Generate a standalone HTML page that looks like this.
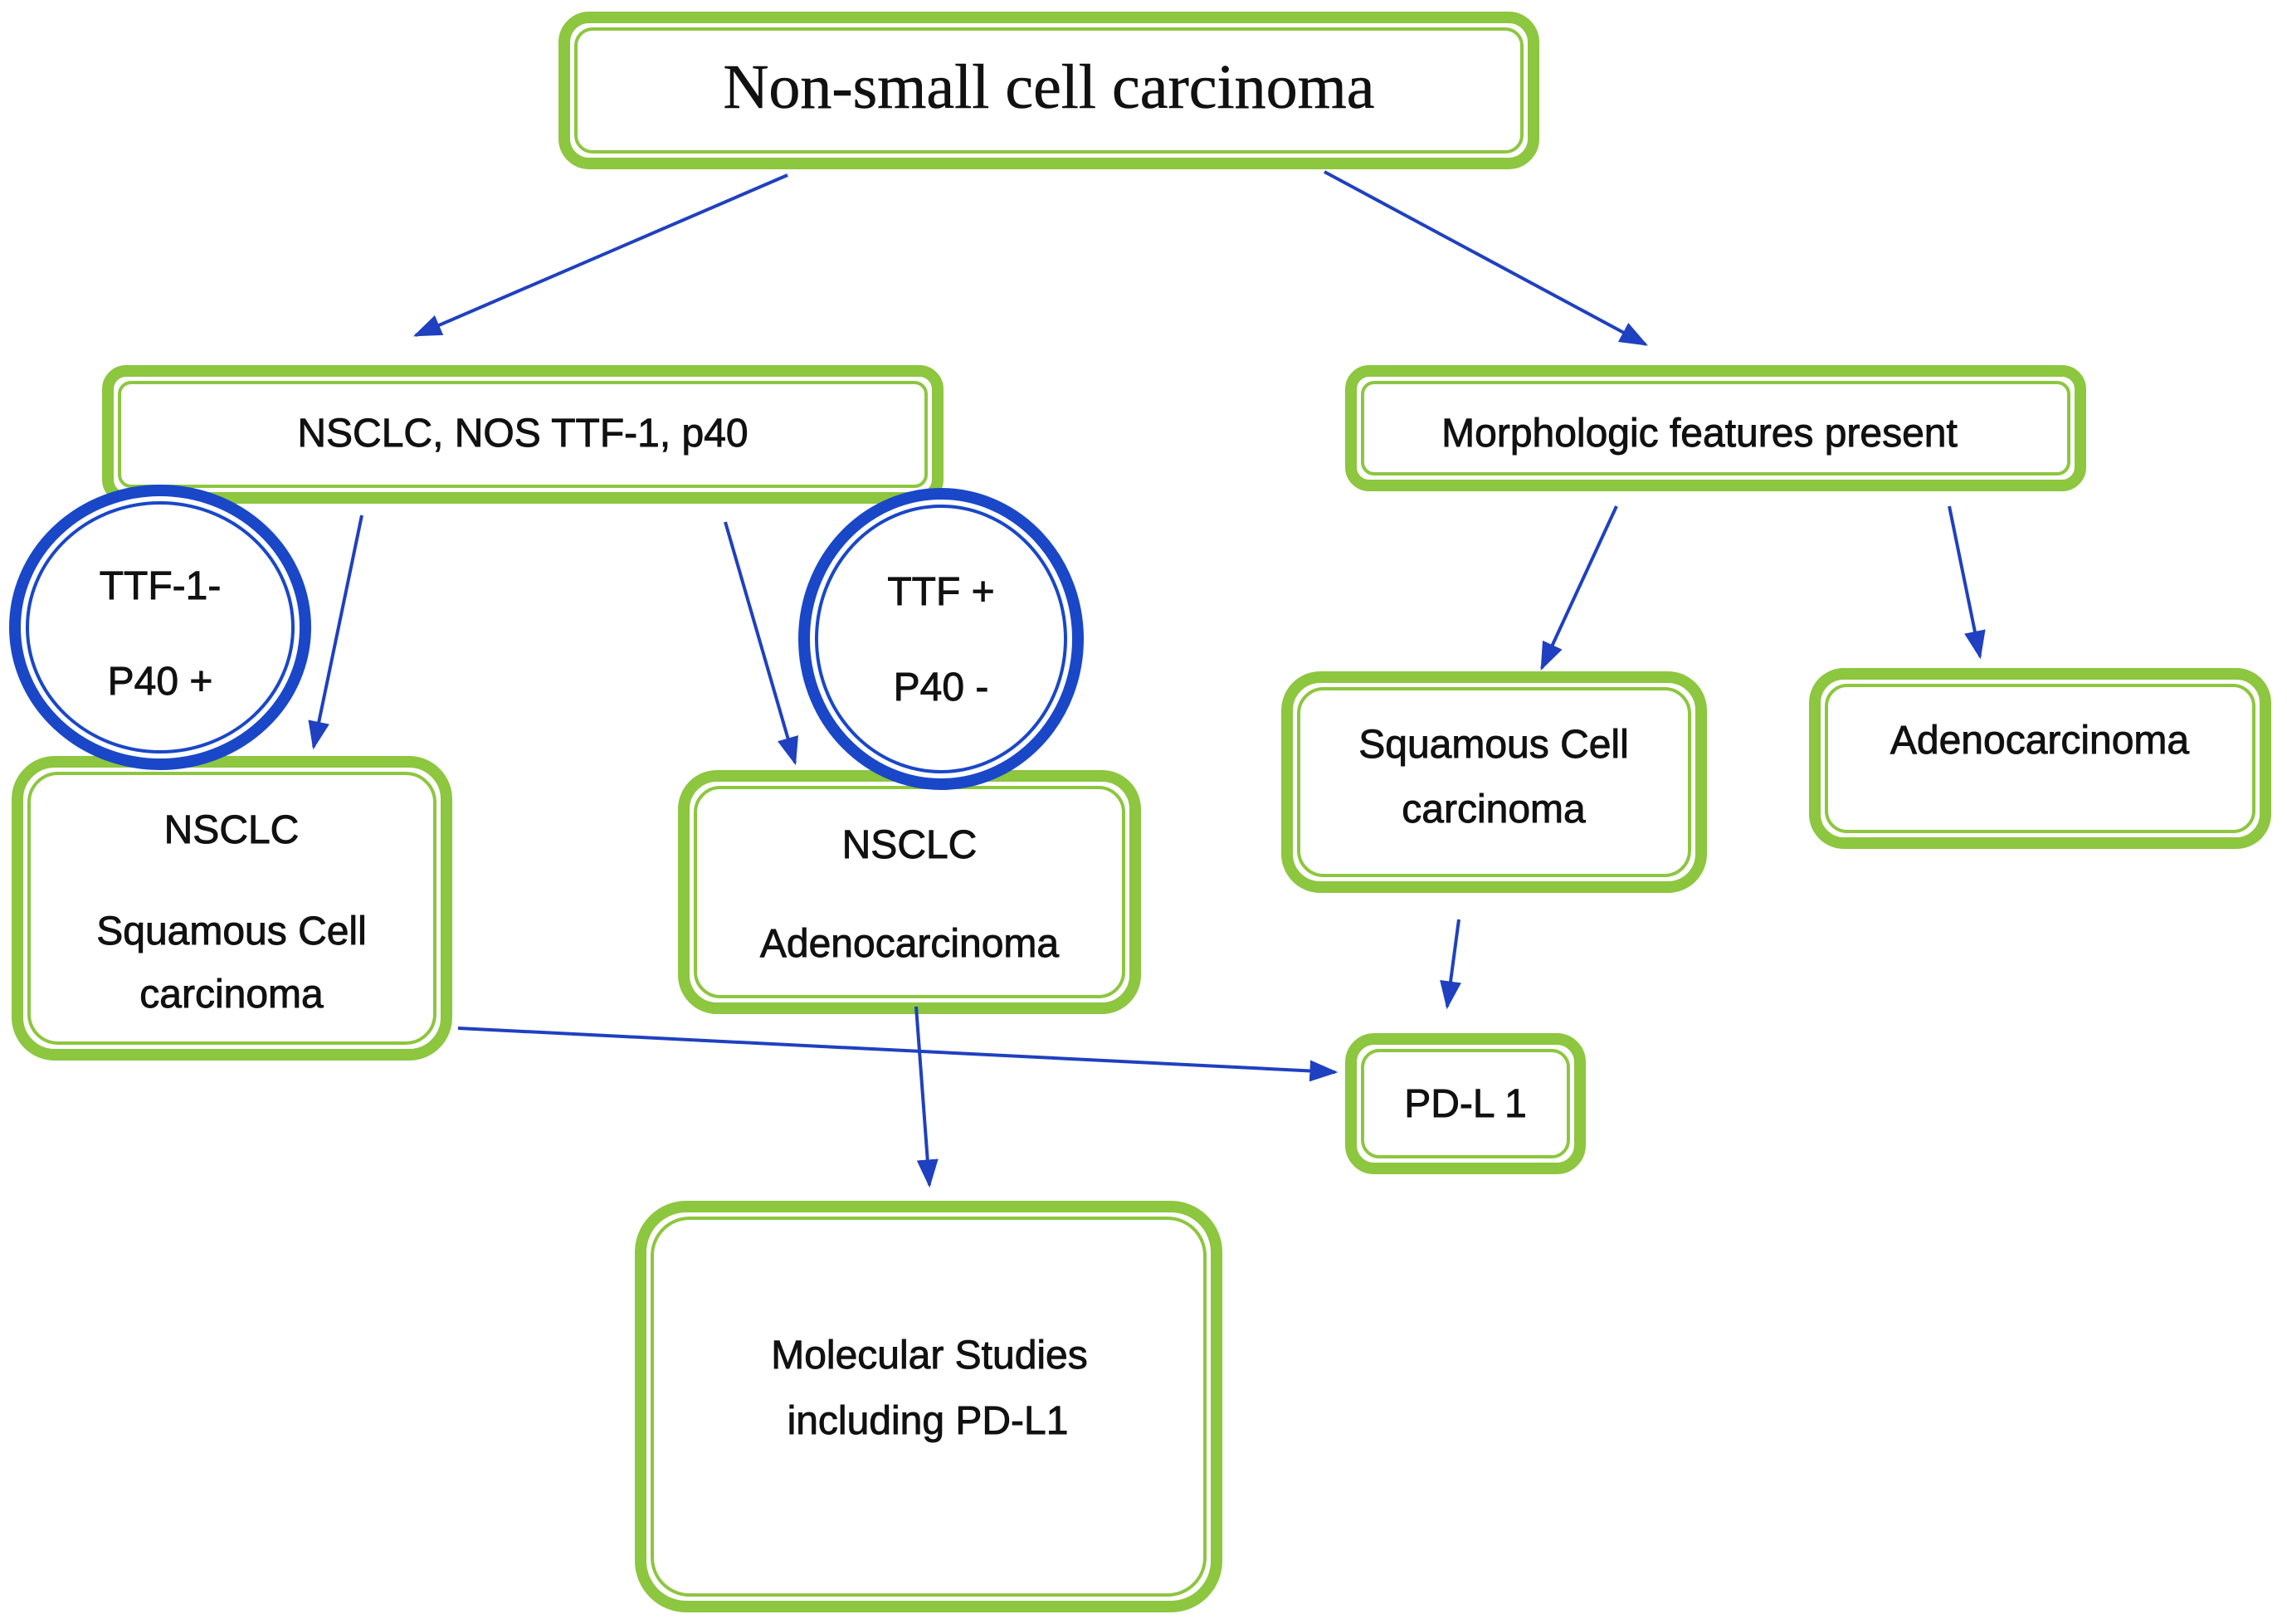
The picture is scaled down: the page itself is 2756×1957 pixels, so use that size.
<!DOCTYPE html>
<html><head><meta charset="utf-8"><style>
html,body{margin:0;padding:0;background:#fff;}
svg{display:block;}
text{font-family:"Liberation Sans",sans-serif;font-size:48px;fill:#111;stroke:#111;stroke-width:0.9;text-anchor:middle;}
.serif{font-family:"Liberation Serif",serif;font-size:76px;stroke-width:0.6;}
</style></head><body>
<svg width="2756" height="1957" viewBox="0 0 2756 1957" xmlns="http://www.w3.org/2000/svg">
<defs>
<marker id="a" viewBox="0 0 10 10" refX="9" refY="5" markerWidth="34" markerHeight="26" markerUnits="userSpaceOnUse" orient="auto" preserveAspectRatio="none">
<path d="M0,0 L10,5 L0,10 z" fill="#1f40c0"/></marker>
</defs>
<g fill="#fff" stroke="#8dc63f">
<rect x="680" y="21" width="1168" height="176" rx="30" stroke-width="14"/>
<rect x="694" y="35" width="1140" height="148" rx="20" stroke-width="4" fill="none"/>
<rect x="130" y="447" width="1000" height="153" rx="22" stroke-width="14"/>
<rect x="144" y="461" width="972" height="125" rx="14" stroke-width="4" fill="none"/>
<rect x="1628" y="447" width="879" height="138" rx="22" stroke-width="14"/>
<rect x="1642" y="461" width="851" height="110" rx="14" stroke-width="4" fill="none"/>
<rect x="21" y="918" width="517" height="353" rx="45" stroke-width="14"/>
<rect x="35" y="932" width="489" height="325" rx="35" stroke-width="4" fill="none"/>
<rect x="824" y="935" width="544" height="280" rx="40" stroke-width="14"/>
<rect x="838" y="949" width="516" height="252" rx="30" stroke-width="4" fill="none"/>
<rect x="1551" y="816" width="499" height="253" rx="40" stroke-width="14"/>
<rect x="1565" y="830" width="471" height="225" rx="30" stroke-width="4" fill="none"/>
<rect x="2187" y="812" width="543" height="204" rx="35" stroke-width="14"/>
<rect x="2201" y="826" width="515" height="176" rx="25" stroke-width="4" fill="none"/>
<rect x="1628" y="1252" width="276" height="156" rx="28" stroke-width="14"/>
<rect x="1642" y="1266" width="248" height="128" rx="20" stroke-width="4" fill="none"/>
<rect x="772" y="1454" width="694" height="482" rx="55" stroke-width="14"/>
<rect x="786" y="1468" width="666" height="454" rx="45" stroke-width="4" fill="none"/>
</g>
<g fill="#fff" stroke="#1a47c8">
<ellipse cx="193" cy="756" rx="175" ry="165" stroke-width="14"/>
<ellipse cx="193" cy="756" rx="160" ry="150" stroke-width="4" fill="none"/>
<ellipse cx="1134" cy="770" rx="165" ry="175" stroke-width="14"/>
<ellipse cx="1134" cy="770" rx="150" ry="160" stroke-width="4" fill="none"/>
</g>
<g stroke="#1f40c0" stroke-width="4" fill="none" marker-end="url(#a)">
<line x1="949" y1="211" x2="501" y2="404"/>
<line x1="1596" y1="207" x2="1983" y2="415"/>
<line x1="436" y1="621" x2="378" y2="900"/>
<line x1="874" y1="629" x2="958" y2="919"/>
<line x1="1948" y1="610" x2="1858" y2="805"/>
<line x1="2349" y1="610" x2="2386" y2="791"/>
<line x1="1758" y1="1108" x2="1744" y2="1213"/>
<line x1="552" y1="1239" x2="1609" y2="1292"/>
<line x1="1104" y1="1213" x2="1120" y2="1428"/>
</g>
<text class="serif" x="1264" y="130">Non-small cell carcinoma</text>
<text x="630" y="538">NSCLC, NOS TTF-1, p40</text>
<text x="2048" y="538">Morphologic features present</text>
<text x="193" y="722">TTF-1-</text>
<text x="193" y="837">P40 +</text>
<text x="1134" y="729">TTF +</text>
<text x="1134" y="844">P40 -</text>
<text x="279" y="1016">NSCLC</text>
<text x="279" y="1138">Squamous Cell</text>
<text x="279" y="1214">carcinoma</text>
<text x="1096" y="1034">NSCLC</text>
<text x="1096" y="1153">Adenocarcinoma</text>
<text x="1800" y="913">Squamous Cell</text>
<text x="1800" y="991">carcinoma</text>
<text x="2458" y="908">Adenocarcinoma</text>
<text x="1766" y="1346">PD-L 1</text>
<text x="1120" y="1649">Molecular Studies</text>
<text x="1118" y="1728">including PD-L1</text>
</svg>
</body></html>
